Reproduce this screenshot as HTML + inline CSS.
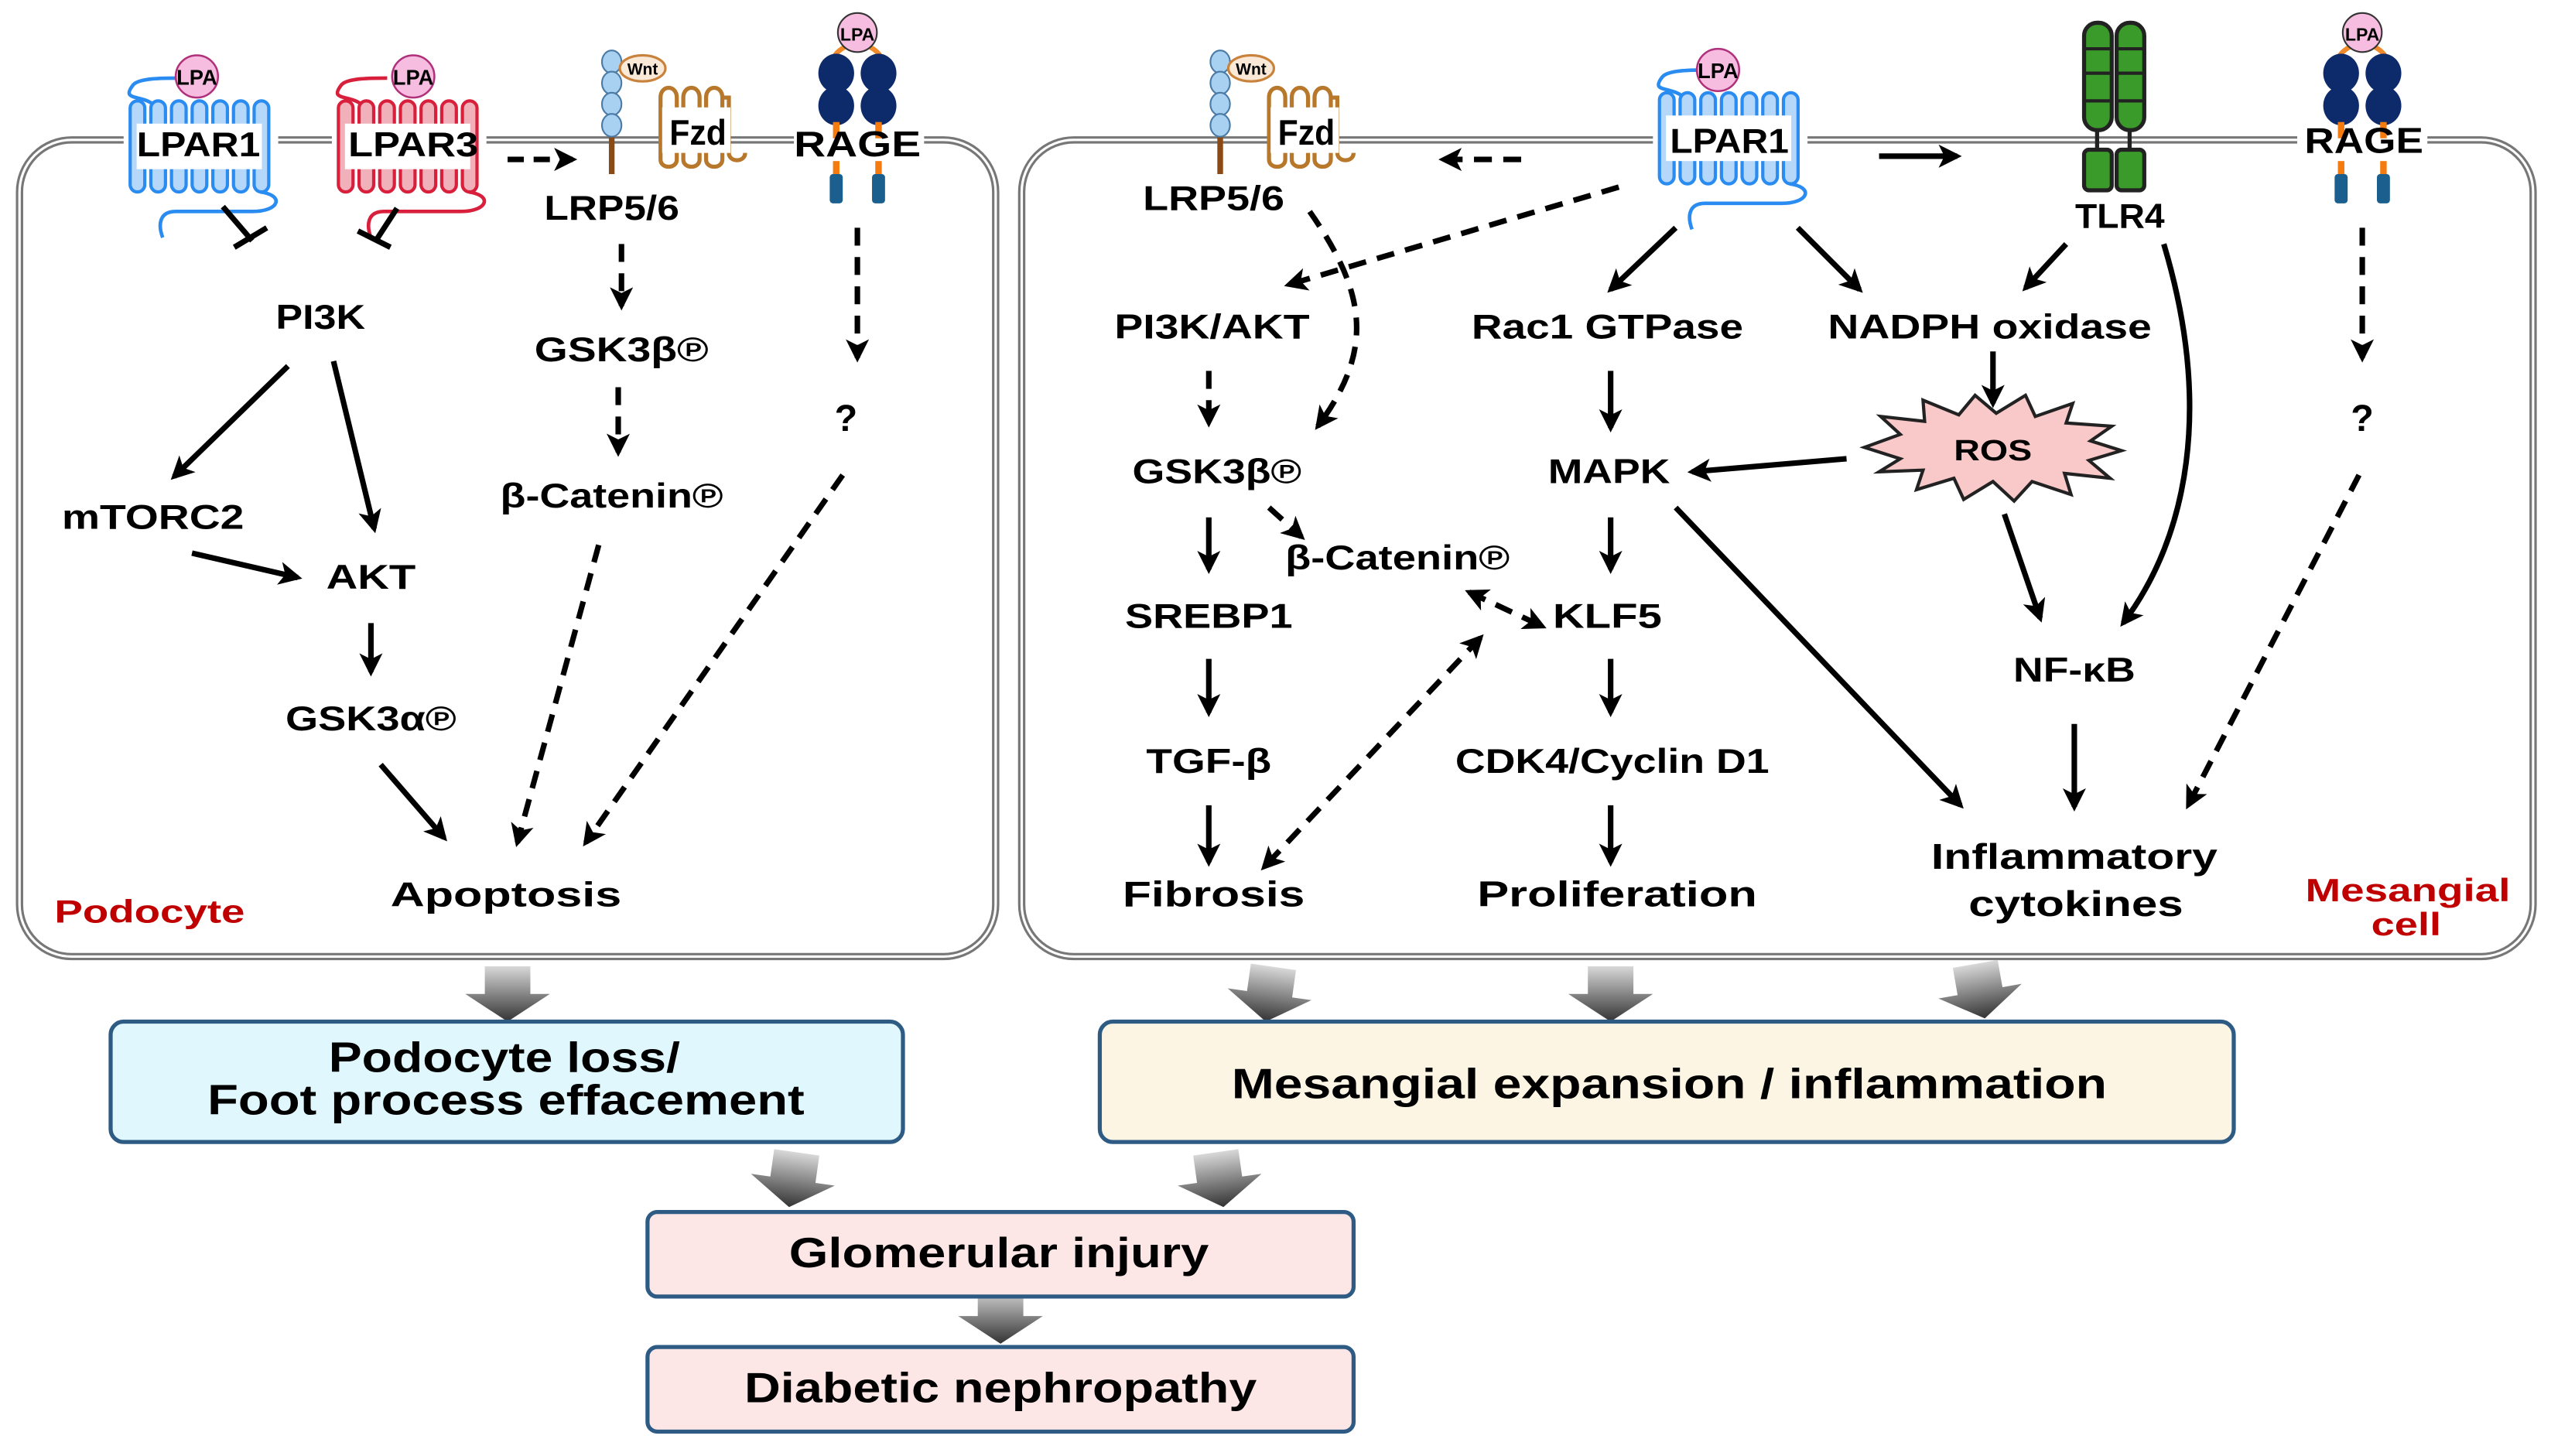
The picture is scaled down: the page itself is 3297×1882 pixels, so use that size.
<!DOCTYPE html>
<html><head><meta charset="utf-8"><style>
html,body{margin:0;padding:0;background:#fff;}
svg{display:block;}
text{font-family:"Liberation Sans",sans-serif;font-weight:bold;}
</style></head><body>
<svg width="3297" height="1882" viewBox="0 0 1568 895" preserveAspectRatio="none" xmlns="http://www.w3.org/2000/svg">
<defs>
<marker id="ah" viewBox="0 0 10 10" refX="8" refY="5" markerWidth="4.2" markerHeight="4.2" orient="auto-start-reverse" markerUnits="strokeWidth"><path d="M0,0 L10,5 L0,10 L2.5,5 z" fill="#000"/></marker>
<linearGradient id="gg" x1="0" y1="0" x2="0" y2="1"><stop offset="0" stop-color="#d8d8d8"/><stop offset="1" stop-color="#333"/></linearGradient>
<symbol id="gpcr" overflow="visible">
 <path d="M14,4 C6,-2 -6,2 2,-8 C6,-12 20,-12 30,-12" fill="none" stroke="currentColor" stroke-width="2.2"/>
 <g fill="currentColor" fill-opacity="0.35" stroke="currentColor" stroke-width="2">
  <rect x="0" y="2" width="9" height="56" rx="4.5"/><rect x="12.7" y="2" width="9" height="56" rx="4.5"/>
  <rect x="25.4" y="2" width="9" height="56" rx="4.5"/><rect x="38.1" y="2" width="9" height="56" rx="4.5"/>
  <rect x="50.8" y="2" width="9" height="56" rx="4.5"/><rect x="63.5" y="2" width="9" height="56" rx="4.5"/>
  <rect x="76.2" y="2" width="9" height="56" rx="4.5"/>
 </g>
 <rect x="4" y="16" width="77" height="28" fill="#fff"/>
 <path d="M80,58 C95,60 92,70 75,70 L28,70 C18,70 17,78 20,86" fill="none" stroke="currentColor" stroke-width="2.2"/>
</symbol>
<symbol id="rage" overflow="visible">
 <path d="M-8,-18 C-22,-10 -12,0 -14,4 M8,-18 C22,-10 12,0 14,4" fill="none" stroke="#f08a2a" stroke-width="3"/>
 <circle cx="0" cy="-27" r="12" fill="#f6bde0" stroke="#333" stroke-width="1"/>
 <text x="0" y="-22" font-size="11" text-anchor="middle" font-weight="normal">LPA</text>
 <g fill="#0d2a6b"><ellipse cx="-13" cy="-2" rx="11" ry="12"/><ellipse cx="13" cy="-2" rx="11" ry="12"/><ellipse cx="-13" cy="18" rx="11" ry="12"/><ellipse cx="13" cy="18" rx="11" ry="12"/></g>
 <rect x="-15" y="28" width="4" height="10" fill="#f57b0e"/><rect x="11" y="28" width="4" height="10" fill="#f57b0e"/>
 <rect x="-15" y="52" width="4" height="10" fill="#f57b0e"/><rect x="11" y="52" width="4" height="10" fill="#f57b0e"/>
 <rect x="-17" y="60" width="8" height="18" rx="2" fill="#1a5f8e"/><rect x="9" y="60" width="8" height="18" rx="2" fill="#1a5f8e"/>
</symbol>
<symbol id="wnt" overflow="visible">
 <line x1="0" y1="10" x2="0" y2="45" stroke="#8b4a14" stroke-width="3.5"/>
 <g fill="#a8d0f0" stroke="#4a7aa6" stroke-width="1"><ellipse cx="0" cy="-24" rx="6" ry="7"/><ellipse cx="0" cy="-11" rx="6" ry="7"/><ellipse cx="0" cy="2" rx="6" ry="7"/><ellipse cx="0" cy="15" rx="6" ry="7"/></g>
 <ellipse cx="19" cy="-20" rx="14" ry="8" fill="#fbe9d8" stroke="#c8823c" stroke-width="1.5"/>
 <text x="19" y="-16" font-size="10" text-anchor="middle" font-weight="normal">Wnt</text>
 <path d="M30,-2 L30,36 C30,42 40,42 40,36 L40,-2 M44,-2 L44,36 C44,42 54,42 54,36 L54,-2 M58,-2 L58,36 C58,42 68,42 68,36 L68,-2 M30,-2 C30,-10 40,-10 40,-2 M44,-2 C44,-10 54,-10 54,-2 M58,-2 C58,-10 68,-10 68,-2 L72,-2 L72,32 C72,38 82,38 82,32" fill="none" stroke="#b8782c" stroke-width="2.5"/>
 <rect x="31" y="4" width="42" height="28" fill="#fff"/>
 <text x="53" y="27" font-size="22" text-anchor="middle" textLength="35" lengthAdjust="spacingAndGlyphs">Fzd</text>
</symbol>
<symbol id="blk" overflow="visible">
 <polygon points="-14,-34 14,-34 14,-17 26,-17 0,0 -26,-17 -14,-17" fill="url(#gg)"/>
</symbol>
</defs>

<!-- cell outlines -->
<g fill="none" stroke="#777" stroke-width="4.5"><rect x="12" y="86" width="600" height="502" rx="32"/><rect x="628" y="86" width="929" height="502" rx="32"/></g>
<g fill="none" stroke="#fff" stroke-width="1.5"><rect x="12" y="86" width="600" height="502" rx="32"/><rect x="628" y="86" width="929" height="502" rx="32"/></g>

<!-- left receptors -->
<g color="#2a8cf0"><rect x="76" y="76" width="95" height="30" fill="#fff"/><use href="#gpcr" x="80" y="60"/></g>
<circle cx="121" cy="47" r="13" fill="#f6bde0" stroke="#b0307a" stroke-width="1.2"/><text x="121" y="52" font-size="13" text-anchor="middle" font-weight="normal">LPA</text>
<text x="122" y="96" font-size="21" text-anchor="middle" textLength="76" lengthAdjust="spacingAndGlyphs">LPAR1</text>
<g color="#d8203c"><rect x="204" y="76" width="95" height="30" fill="#fff"/><use href="#gpcr" x="208" y="60"/></g>
<circle cx="254" cy="47" r="13" fill="#f6bde0" stroke="#b0307a" stroke-width="1.2"/><text x="254" y="52" font-size="13" text-anchor="middle" font-weight="normal">LPA</text>
<text x="254" y="96" font-size="21" text-anchor="middle" textLength="80" lengthAdjust="spacingAndGlyphs">LPAR3</text>
<use href="#wnt" x="376" y="62"/>
<rect x="488" y="76" width="80" height="22" fill="#fff"/>
<use href="#rage" x="527" y="47"/>
<text x="527" y="96" font-size="22" text-anchor="middle" textLength="78" lengthAdjust="spacingAndGlyphs">RAGE</text>

<g stroke="#000" stroke-width="3.4" fill="none">
 <line x1="312" y1="98" x2="352" y2="98" stroke-dasharray="10,6" marker-end="url(#ah)"/>
 <path d="M137,127 L155,148 M144,152 L164,140"/>
 <path d="M244,128 L231,148 M220,142 L240,152"/>
 <line x1="177" y1="225" x2="107" y2="293" marker-end="url(#ah)"/>
 <line x1="205" y1="222" x2="230" y2="325" marker-end="url(#ah)"/>
 <line x1="118" y1="340" x2="183" y2="355" marker-end="url(#ah)"/>
 <line x1="228" y1="383" x2="228" y2="413" marker-end="url(#ah)"/>
 <line x1="234" y1="470" x2="273" y2="515" marker-end="url(#ah)"/>
 <g stroke-dasharray="11,7">
  <line x1="382" y1="150" x2="382" y2="188" marker-end="url(#ah)"/>
  <line x1="380" y1="238" x2="380" y2="278" marker-end="url(#ah)"/>
  <line x1="368" y1="335" x2="318" y2="518" marker-end="url(#ah)"/>
  <line x1="527" y1="140" x2="527" y2="220" marker-end="url(#ah)"/>
  <line x1="518" y1="292" x2="360" y2="518" marker-end="url(#ah)"/>
 </g>
</g>
<g font-size="21" text-anchor="middle" lengthAdjust="spacingAndGlyphs">
 <text x="376" y="135" textLength="83" lengthAdjust="spacingAndGlyphs">LRP5/6</text>
 <text x="197" y="202" textLength="55" lengthAdjust="spacingAndGlyphs">PI3K</text>
 <text x="94" y="325" textLength="112" lengthAdjust="spacingAndGlyphs">mTORC2</text>
 <text x="228" y="362" textLength="55" lengthAdjust="spacingAndGlyphs">AKT</text>
 <text x="228" y="449" textLength="105" lengthAdjust="spacingAndGlyphs">GSK3α℗</text>
 <text x="311" y="557" textLength="142" lengthAdjust="spacingAndGlyphs">Apoptosis</text>
 <text x="382" y="222" textLength="107" lengthAdjust="spacingAndGlyphs">GSK3β℗</text>
 <text x="376" y="312" textLength="137" lengthAdjust="spacingAndGlyphs">β-Catenin℗</text>
 <text x="520" y="265" font-size="23">?</text>
 <text x="92" y="567" fill="#c00000" font-size="20" textLength="117" lengthAdjust="spacingAndGlyphs">Podocyte</text>
</g>

<!-- right receptors -->
<use href="#wnt" x="750" y="62"/>
<text x="746" y="129" font-size="21" text-anchor="middle" textLength="87" lengthAdjust="spacingAndGlyphs">LRP5/6</text>
<g color="#2a8cf0"><rect x="1016" y="72" width="95" height="30" fill="#fff"/><use href="#gpcr" x="1020" y="55"/></g>
<circle cx="1056" cy="43" r="13" fill="#f6bde0" stroke="#b0307a" stroke-width="1.2"/><text x="1056" y="48" font-size="13" text-anchor="middle" font-weight="normal">LPA</text>
<text x="1063" y="94" font-size="21" text-anchor="middle" textLength="73" lengthAdjust="spacingAndGlyphs">LPAR1</text>
<!-- TLR4 -->
<g stroke="#222" stroke-width="2.5">
 <rect x="1281" y="14" width="17" height="66" rx="8" fill="#3a9a2a"/><rect x="1301" y="14" width="17" height="66" rx="8" fill="#3a9a2a"/>
 <line x1="1289" y1="80" x2="1289" y2="92"/><line x1="1309" y1="80" x2="1309" y2="92"/>
 <rect x="1281" y="92" width="17" height="25" rx="3" fill="#3a9a2a"/><rect x="1301" y="92" width="17" height="25" rx="3" fill="#3a9a2a"/>
 <path d="M1281,30 H1298 M1301,30 H1318 M1281,45 H1298 M1301,45 H1318 M1281,62 H1298 M1301,62 H1318" stroke-width="2"/>
</g>
<text x="1303" y="140" font-size="21" text-anchor="middle" textLength="55" lengthAdjust="spacingAndGlyphs">TLR4</text>
<rect x="1412" y="76" width="80" height="22" fill="#fff"/>
<use href="#rage" x="1452" y="47"/>
<text x="1453" y="94" font-size="22" text-anchor="middle" textLength="73" lengthAdjust="spacingAndGlyphs">RAGE</text>

<!-- ROS starburst -->
<polygon points="1146,275 1168,267 1156,256 1183,259 1182,246 1204,255 1214,243 1227,254 1245,243 1251,256 1274,248 1270,260 1298,262 1285,271 1304,277 1284,283 1297,294 1269,291 1273,304 1249,296 1238,308 1225,296 1207,307 1201,294 1178,301 1182,289 1155,290 1168,282" fill="#f9c8c8" stroke="#222" stroke-width="2"/>
<text x="1225" y="283" font-size="18" text-anchor="middle" textLength="48" lengthAdjust="spacingAndGlyphs">ROS</text>

<g stroke="#000" stroke-width="3.4" fill="none">
 <line x1="1155" y1="96" x2="1203" y2="96" marker-end="url(#ah)"/>
 <line x1="1030" y1="140" x2="990" y2="178" marker-end="url(#ah)"/>
 <line x1="1105" y1="140" x2="1143" y2="178" marker-end="url(#ah)"/>
 <line x1="1270" y1="150" x2="1245" y2="177" marker-end="url(#ah)"/>
 <path d="M1330,150 C1360,250 1345,330 1305,383" marker-end="url(#ah)"/>
 <line x1="990" y1="228" x2="990" y2="263" marker-end="url(#ah)"/>
 <line x1="1225" y1="216" x2="1225" y2="248" marker-end="url(#ah)"/>
 <line x1="1135" y1="282" x2="1040" y2="290" marker-end="url(#ah)"/>
 <line x1="1232" y1="316" x2="1254" y2="380" marker-end="url(#ah)"/>
 <line x1="743" y1="318" x2="743" y2="350" marker-end="url(#ah)"/>
 <line x1="990" y1="318" x2="990" y2="350" marker-end="url(#ah)"/>
 <line x1="1030" y1="312" x2="1205" y2="495" marker-end="url(#ah)"/>
 <line x1="1275" y1="445" x2="1275" y2="496" marker-end="url(#ah)"/>
 <line x1="743" y1="405" x2="743" y2="438" marker-end="url(#ah)"/>
 <line x1="990" y1="405" x2="990" y2="438" marker-end="url(#ah)"/>
 <line x1="743" y1="495" x2="743" y2="530" marker-end="url(#ah)"/>
 <line x1="990" y1="495" x2="990" y2="530" marker-end="url(#ah)"/>
 <g stroke-dasharray="11,7">
  <line x1="935" y1="98" x2="887" y2="98" marker-end="url(#ah)"/>
  <line x1="995" y1="115" x2="792" y2="175" marker-end="url(#ah)"/>
  <path d="M805,130 C840,180 845,215 810,262" marker-end="url(#ah)"/>
  <line x1="743" y1="228" x2="743" y2="260" marker-end="url(#ah)"/>
  <line x1="780" y1="312" x2="800" y2="330" marker-end="url(#ah)"/>
  <line x1="903" y1="364" x2="948" y2="385" marker-start="url(#ah)" marker-end="url(#ah)"/>
  <line x1="910" y1="392" x2="777" y2="533" marker-start="url(#ah)" marker-end="url(#ah)"/>
  <line x1="1452" y1="140" x2="1452" y2="220" marker-end="url(#ah)"/>
  <line x1="1450" y1="292" x2="1345" y2="495" marker-end="url(#ah)"/>
 </g>
</g>
<g font-size="21" text-anchor="middle">
 <text x="745" y="208" textLength="120" lengthAdjust="spacingAndGlyphs">PI3K/AKT</text>
 <text x="988" y="208" textLength="167" lengthAdjust="spacingAndGlyphs">Rac1 GTPase</text>
 <text x="1223" y="208" textLength="199" lengthAdjust="spacingAndGlyphs">NADPH  oxidase</text>
 <text x="748" y="297" textLength="104" lengthAdjust="spacingAndGlyphs">GSK3β℗</text>
 <text x="989" y="297" textLength="75" lengthAdjust="spacingAndGlyphs">MAPK</text>
 <text x="859" y="350" textLength="138" lengthAdjust="spacingAndGlyphs">β-Catenin℗</text>
 <text x="743" y="386" textLength="103" lengthAdjust="spacingAndGlyphs">SREBP1</text>
 <text x="988" y="386" textLength="67" lengthAdjust="spacingAndGlyphs">KLF5</text>
 <text x="1275" y="419" textLength="75" lengthAdjust="spacingAndGlyphs">NF-κB</text>
 <text x="743" y="475" textLength="77" lengthAdjust="spacingAndGlyphs">TGF-β</text>
 <text x="991" y="475" textLength="193" lengthAdjust="spacingAndGlyphs">CDK4/Cyclin D1</text>
 <text x="746" y="557" font-size="22" textLength="112" lengthAdjust="spacingAndGlyphs">Fibrosis</text>
 <text x="994" y="557" font-size="22" textLength="172" lengthAdjust="spacingAndGlyphs">Proliferation</text>
 <text x="1275" y="534" font-size="22" textLength="176" lengthAdjust="spacingAndGlyphs">Inflammatory</text>
 <text x="1276" y="563" font-size="22" textLength="132" lengthAdjust="spacingAndGlyphs">cytokines</text>
 <text x="1452" y="265" font-size="23">?</text>
 <text x="1480" y="554" fill="#c00000" font-size="20" textLength="126" lengthAdjust="spacingAndGlyphs">Mesangial</text>
 <text x="1479" y="575" fill="#c00000" font-size="20" textLength="43" lengthAdjust="spacingAndGlyphs">cell</text>
</g>

<!-- bottom -->
<use href="#blk" x="312" y="628"/>
<use href="#blk" transform="translate(778,628) rotate(8)"/>
<use href="#blk" x="990" y="628"/>
<use href="#blk" transform="translate(1220,626) rotate(-10)"/>
<use href="#blk" transform="translate(485,742) rotate(8)"/>
<use href="#blk" transform="translate(752,742) rotate(-8)"/>
<use href="#blk" x="615" y="826"/>
<g stroke="#2e5b84" stroke-width="2.5">
 <rect x="68" y="628" width="487" height="74" rx="8" fill="#e0f8fd"/>
 <rect x="676" y="628" width="697" height="74" rx="8" fill="#fdf5e4"/>
 <rect x="398" y="745" width="434" height="52" rx="6" fill="#fce6e6"/>
 <rect x="398" y="828" width="434" height="52" rx="6" fill="#fce6e6"/>
</g>
<g font-size="26" text-anchor="middle">
 <text x="310" y="659" textLength="216" lengthAdjust="spacingAndGlyphs">Podocyte loss/</text>
 <text x="311" y="685" textLength="367" lengthAdjust="spacingAndGlyphs">Foot process effacement</text>
 <text x="1026" y="675" textLength="538" lengthAdjust="spacingAndGlyphs">Mesangial expansion /  inflammation</text>
 <text x="614" y="779" textLength="258" lengthAdjust="spacingAndGlyphs">Glomerular injury</text>
 <text x="615" y="862" textLength="315" lengthAdjust="spacingAndGlyphs">Diabetic nephropathy</text>
</g>
</svg>
</body></html>
